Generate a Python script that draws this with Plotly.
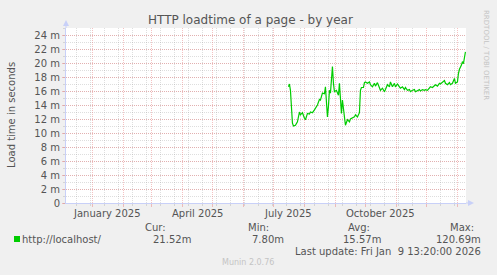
import plotly.graph_objects as go

dates = [
    "2025-07-16", "2025-07-17", "2025-07-18", "2025-07-20", "2025-07-21", "2025-07-23", "2025-07-25",
    "2025-07-27", "2025-07-28", "2025-07-30", "2025-08-01", "2025-08-02", "2025-08-04", "2025-08-06",
    "2025-08-07", "2025-08-09", "2025-08-11", "2025-08-12", "2025-08-14", "2025-08-16", "2025-08-17",
    "2025-08-19", "2025-08-21", "2025-08-22", "2025-08-23", "2025-08-24", "2025-08-25", "2025-08-26",
    "2025-08-27", "2025-08-28", "2025-08-29", "2025-08-30", "2025-08-31", "2025-09-02", "2025-09-04",
    "2025-09-05", "2025-09-06", "2025-09-07", "2025-09-08", "2025-09-10", "2025-09-11", "2025-09-13",
    "2025-09-15", "2025-09-16", "2025-09-18", "2025-09-20", "2025-09-21", "2025-09-23", "2025-09-25",
    "2025-09-26", "2025-09-27", "2025-09-29", "2025-09-30", "2025-10-01", "2025-10-03", "2025-10-05",
    "2025-10-06", "2025-10-08", "2025-10-10", "2025-10-11", "2025-10-13", "2025-10-15", "2025-10-16",
    "2025-10-18", "2025-10-20", "2025-10-21", "2025-10-23", "2025-10-25", "2025-10-26", "2025-10-28",
    "2025-10-30", "2025-10-31", "2025-11-02", "2025-11-04", "2025-11-05", "2025-11-07", "2025-11-09",
    "2025-11-10", "2025-11-12", "2025-11-14", "2025-11-15", "2025-11-17", "2025-11-19", "2025-11-20",
    "2025-11-22", "2025-11-24", "2025-11-25", "2025-11-27", "2025-11-29", "2025-11-30", "2025-12-02",
    "2025-12-04", "2025-12-05", "2025-12-07", "2025-12-09", "2025-12-10", "2025-12-12", "2025-12-14",
    "2025-12-15", "2025-12-17", "2025-12-19", "2025-12-20", "2025-12-22", "2025-12-24", "2025-12-25",
    "2025-12-27", "2025-12-29", "2025-12-30", "2026-01-01", "2026-01-02", "2026-01-03", "2026-01-05",
    "2026-01-06", "2026-01-07", "2026-01-08", "2026-01-09",
]
loadtime_ms = [
    16.6, 17.0, 16.1, 11.4, 11.0, 11.1, 11.6,
    13.0, 12.6, 12.9, 12.1, 11.9, 12.8, 12.7,
    13.0, 12.9, 13.3, 13.5, 14.0, 14.8, 14.7,
    15.7, 15.6, 16.6, 14.5, 12.3, 13.8, 16.1,
    15.7, 17.1, 19.5, 17.1, 15.9, 16.1, 15.4,
    17.1, 13.8, 12.8, 14.7, 11.9, 11.1, 11.9,
    11.6, 12.0, 12.1, 12.3, 12.6, 12.3, 12.9,
    16.1, 16.5, 16.5, 17.2, 17.3, 17.1, 17.3,
    16.9, 16.6, 17.1, 16.7, 17.2, 16.6, 16.1,
    16.4, 15.9, 16.2, 16.9, 16.6, 17.3, 16.6,
    17.1, 16.6, 17.0, 16.6, 16.4, 16.6, 16.2,
    16.5, 16.1, 16.2, 15.9, 16.1, 16.2, 15.9,
    16.1, 16.2, 16.0, 16.2, 16.1, 16.2, 16.1,
    16.4, 16.6, 16.5, 16.7, 16.9, 16.7, 17.1,
    17.0, 17.2, 17.5, 17.1, 16.9, 17.2, 16.9,
    17.1, 17.8, 17.1, 17.3, 18.5, 19.1, 19.7,
    20.2, 19.9, 20.9, 21.6,
]

x_range = ["2024-12-05 13:20", "2026-01-09 13:20"]
x_label_dates = ["2025-01-16", "2025-04-16", "2025-07-16", "2025-10-16"]
x_label_text = ["January 2025", "April 2025", "July 2025", "October 2025"]
y_tick_vals = [0, 2, 4, 6, 8, 10, 12, 14, 16, 18, 20, 22, 24]
y_tick_text = ["0", "2 m", "4 m", "6 m", "8 m", "10 m", "12 m", "14 m", "16 m", "18 m", "20 m", "22 m", "24 m"]

series_name = "http://localhost/"
stat_headers = ["Cur:", "Min:", "Avg:", "Max:"]
stat_values = ["21.52m", "7.80m", "15.57m", "120.69m"]
last_update = "Last update: Fri Jan&nbsp; 9 13:20:00 2026"

W, H = 497, 275
L, R, T, B = 66, 466, 28, 203
FONT = "DejaVu Sans"
TXT = "#555555"
MAJ = "rgba(230,120,120,0.45)"
MIN = "rgba(160,160,160,0.35)"
AXC = "#c8d0f8"
DASH = "1px,1px"


def px(x):
    return (x - L) / (R - L)


def py(y):
    return (B - y) / (B - T)


fig = go.Figure()
fig.add_trace(go.Scatter(x=dates, y=loadtime_ms, mode="lines",
                         line=dict(color="#00cc00", width=1.2), hoverinfo="skip"))

fig.update_layout(
    width=W, height=H,
    margin=dict(l=L, r=W - R, t=T, b=H - B, pad=0),
    paper_bgcolor="#f0f0f0", plot_bgcolor="#ffffff",
    showlegend=False,
    font=dict(family=FONT, size=10, color=TXT),
)

fig.update_xaxes(
    type="date", range=x_range,
    tickmode="linear", tick0="2025-01-01", dtick="M1",
    showticklabels=False,
    showgrid=True, gridcolor=MAJ, griddash=DASH, gridwidth=1,
    ticks="outside", ticklen=3, tickcolor=MAJ,
    showline=True, linecolor=AXC, linewidth=1,
    zeroline=False,
    minor=dict(tickmode="linear", tick0="2024-12-16", dtick=14 * 86400000,
               showgrid=True, gridcolor=MIN, griddash=DASH, ticks="outside",
               ticklen=2, tickcolor=MIN),
)
fig.update_yaxes(
    range=[0, 25],
    tickmode="array", tickvals=y_tick_vals, ticktext=y_tick_text,
    tickfont=dict(family=FONT, size=10, color=TXT),
    showgrid=True, gridcolor=MAJ, griddash=DASH, gridwidth=1,
    ticks="outside", ticklen=3, tickcolor=MAJ,
    showline=True, linecolor=AXC, linewidth=1,
    zeroline=False,
    minor=dict(tickmode="linear", tick0=0, dtick=1,
               showgrid=True, gridcolor=MIN, griddash=DASH, ticks="outside",
               ticklen=2, tickcolor=MIN),
)

ann = []
ann.append(dict(text="HTTP loadtime of a page - by year", xref="paper", yref="paper",
                x=px(250), y=py(20), xanchor="center", yanchor="middle", showarrow=False,
                font=dict(family=FONT, size=12, color=TXT)))
ann.append(dict(text="Load time in seconds", xref="paper", yref="paper",
                x=px(11), y=py(115), xanchor="center", yanchor="middle", textangle=-90,
                showarrow=False, font=dict(family=FONT, size=10, color=TXT)))
for d, t in zip(x_label_dates, x_label_text):
    ann.append(dict(text=t, xref="x", yref="paper", x=d, y=py(213), xanchor="center",
                    yanchor="middle", showarrow=False, font=dict(family=FONT, size=10, color=TXT)))
ann.append(dict(text=series_name, xref="paper", yref="paper", x=px(20), y=py(239),
                xanchor="left", yanchor="middle", showarrow=False,
                font=dict(family=FONT, size=10, color=TXT)))
head_right = [168, 271, 372, 476]
val_right = [193, 286, 383, 483]
for h, v, hx, vx in zip(stat_headers, stat_values, head_right, val_right):
    ann.append(dict(text=h, xref="paper", yref="paper", x=px(hx), y=py(227), xanchor="right",
                    yanchor="middle", showarrow=False, font=dict(family=FONT, size=10, color=TXT)))
    ann.append(dict(text=v, xref="paper", yref="paper", x=px(vx), y=py(239), xanchor="right",
                    yanchor="middle", showarrow=False, font=dict(family=FONT, size=10, color=TXT)))
ann.append(dict(text=last_update, xref="paper", yref="paper",
                x=px(483), y=py(251), xanchor="right", yanchor="middle", showarrow=False,
                font=dict(family=FONT, size=10, color=TXT)))
ann.append(dict(text="Munin 2.0.76", xref="paper", yref="paper", x=px(248), y=py(262),
                xanchor="center", yanchor="middle", showarrow=False,
                font=dict(family=FONT, size=8, color="#c4c4c4")))
ann.append(dict(text="RRDTOOL / TOBI OETIKER", xref="paper", yref="paper", x=px(486), y=py(55),
                xanchor="center", yanchor="middle", textangle=90, showarrow=False,
                font=dict(family=FONT, size=7, color="#c4c4c4")))
fig.update_layout(annotations=ann)

shapes = []
shapes.append(dict(type="rect", xref="paper", yref="paper", x0=px(14), x1=px(20), y0=py(242), y1=py(236),
                   fillcolor="#00cc00", line=dict(width=0)))
shapes.append(dict(type="line", xref="paper", yref="paper", x0=px(L), x1=px(L), y0=py(T), y1=py(24),
                   line=dict(color=AXC, width=1)))
shapes.append(dict(type="path", xref="paper", yref="paper",
                   path=f"M {px(63)},{py(26)} L {px(69)},{py(26)} L {px(66)},{py(20)} Z",
                   fillcolor=AXC, line=dict(width=0)))
shapes.append(dict(type="line", xref="paper", yref="paper", x0=px(R), x1=px(469), y0=py(B), y1=py(B),
                   line=dict(color=AXC, width=1)))
shapes.append(dict(type="path", xref="paper", yref="paper",
                   path=f"M {px(468)},{py(200)} L {px(468)},{py(206)} L {px(474)},{py(203)} Z",
                   fillcolor=AXC, line=dict(width=0)))
fig.update_layout(shapes=shapes)

fig.write_html("out.html")
